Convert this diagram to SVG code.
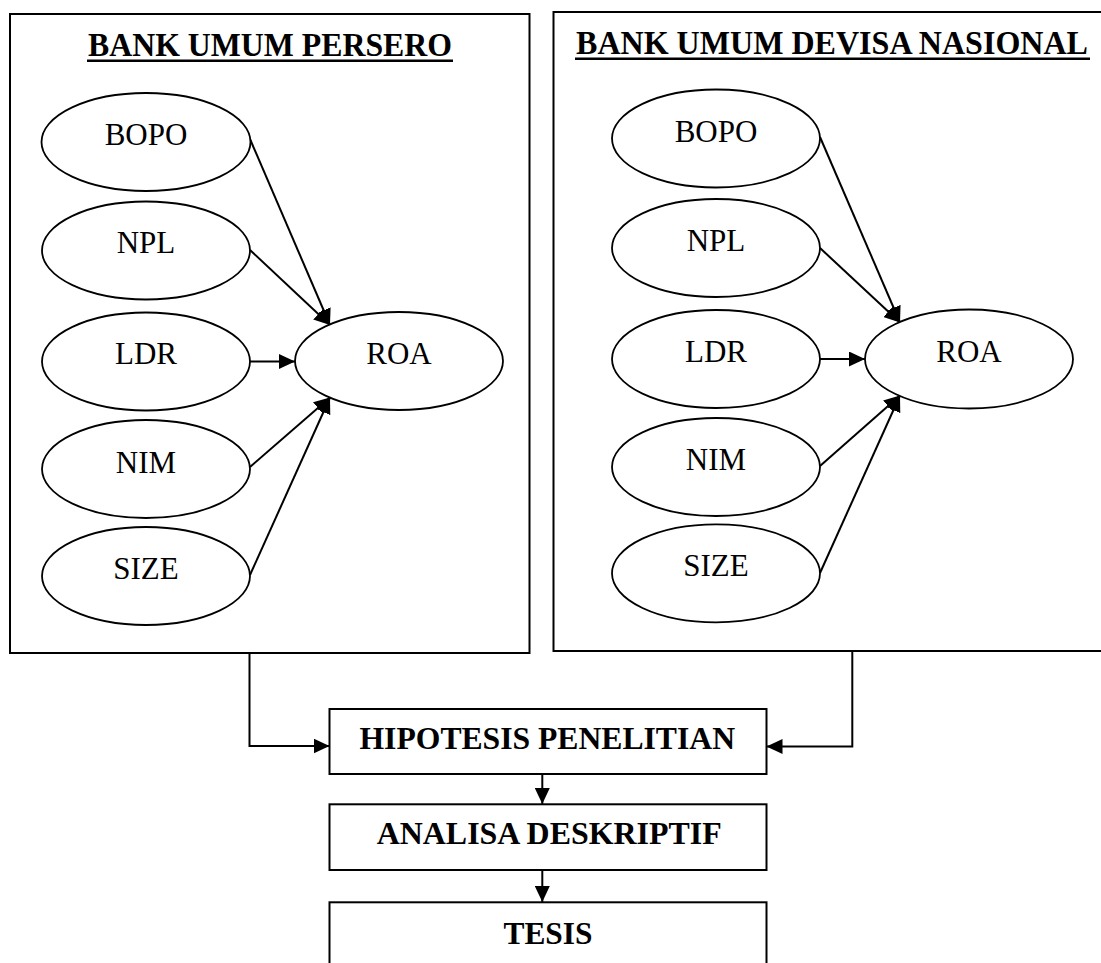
<svg xmlns="http://www.w3.org/2000/svg" width="1101" height="963" viewBox="0 0 1101 963">
<style>
  .box { fill: none; stroke: #000; stroke-width: 2; }
  .oval { fill: #fff; stroke: #000; stroke-width: 1.8; }
  .lbl { font-family: "Liberation Serif", "Times New Roman", serif; font-size: 31px; fill: #000; text-anchor: middle; }
  .ttl { font-family: "Liberation Serif", "Times New Roman", serif; font-size: 32px; font-weight: bold; fill: #000; }
  .big { font-size: 34px; }
  .ul { stroke: #000; stroke-width: 2.4; }
  .edge { fill: none; stroke: #000; stroke-width: 2; }
</style>
<defs>
  <marker id="arr" markerUnits="userSpaceOnUse" markerWidth="17" markerHeight="15" refX="16" refY="7.5" orient="auto">
    <path d="M0,0 L16,7.5 L0,15 z" fill="#000"/>
  </marker>
</defs>
<rect width="1101" height="963" fill="#fff"/>

<g id="group-persero">
  <rect class="box" x="10" y="14" width="519.5" height="639"/>
  <text class="ttl big" x="88" y="55.7" textLength="364" lengthAdjust="spacingAndGlyphs">BANK UMUM PERSERO</text>
  <line class="ul" x1="87" y1="60.7" x2="453" y2="60.7"/>
</g>
<g id="group-devisa">
  <rect class="box" x="553.5" y="12" width="560" height="639"/>
  <text class="ttl big" x="576" y="54" textLength="512" lengthAdjust="spacingAndGlyphs">BANK UMUM DEVISA NASIONAL</text>
  <line class="ul" x1="575" y1="58.7" x2="1090" y2="58.7"/>
</g>

<g id="connectors">
  <line class="edge" x1="250" y1="139" x2="330" y2="325" marker-end="url(#arr)"/>
  <line class="edge" x1="250" y1="250" x2="330" y2="325" marker-end="url(#arr)"/>
  <line class="edge" x1="250" y1="361.5" x2="295" y2="361.5" marker-end="url(#arr)"/>
  <line class="edge" x1="250" y1="467" x2="330" y2="397.5" marker-end="url(#arr)"/>
  <line class="edge" x1="250" y1="575" x2="330" y2="397.5" marker-end="url(#arr)"/>
  <line class="edge" x1="820" y1="137" x2="900" y2="322.5" marker-end="url(#arr)"/>
  <line class="edge" x1="820" y1="248" x2="900" y2="322.5" marker-end="url(#arr)"/>
  <line class="edge" x1="820" y1="359" x2="865" y2="359" marker-end="url(#arr)"/>
  <line class="edge" x1="820" y1="466" x2="900" y2="395.5" marker-end="url(#arr)"/>
  <line class="edge" x1="820" y1="573" x2="900" y2="395.5" marker-end="url(#arr)"/>
  <polyline class="edge" points="249.5,653 249.5,746 329.5,746" marker-end="url(#arr)"/>
  <polyline class="edge" points="852.3,651 852.3,746.5 766.5,746.5" marker-end="url(#arr)"/>
  <line class="edge" x1="542.3" y1="774" x2="542.3" y2="804" marker-end="url(#arr)"/>
  <line class="edge" x1="542.3" y1="870" x2="542.3" y2="902" marker-end="url(#arr)"/>
</g>

<g id="p-bopo"><ellipse class="oval" cx="146" cy="142" rx="104.5" ry="49"/><text class="lbl" x="146" y="144.5">BOPO</text></g>
<g id="p-npl"><ellipse class="oval" cx="146" cy="250.5" rx="104" ry="49"/><text class="lbl" x="146" y="253.3">NPL</text></g>
<g id="p-ldr"><ellipse class="oval" cx="146" cy="361.5" rx="104" ry="49"/><text class="lbl" x="146" y="364.3">LDR</text></g>
<g id="p-nim"><ellipse class="oval" cx="146" cy="469" rx="104" ry="49"/><text class="lbl" x="146" y="473">NIM</text></g>
<g id="p-size"><ellipse class="oval" cx="146" cy="576" rx="104" ry="49"/><text class="lbl" x="146" y="579">SIZE</text></g>
<g id="p-roa"><ellipse class="oval" cx="399" cy="361" rx="104" ry="49"/><text class="lbl" x="399" y="363.5">ROA</text></g>

<g id="d-bopo"><ellipse class="oval" cx="716" cy="138.5" rx="104" ry="49"/><text class="lbl" x="716" y="141.5">BOPO</text></g>
<g id="d-npl"><ellipse class="oval" cx="716" cy="248" rx="104" ry="49"/><text class="lbl" x="716" y="251">NPL</text></g>
<g id="d-ldr"><ellipse class="oval" cx="716" cy="359" rx="104" ry="49"/><text class="lbl" x="716" y="361.7">LDR</text></g>
<g id="d-nim"><ellipse class="oval" cx="716" cy="467" rx="104" ry="49"/><text class="lbl" x="716" y="470">NIM</text></g>
<g id="d-size"><ellipse class="oval" cx="716" cy="573.3" rx="104" ry="49"/><text class="lbl" x="716" y="576">SIZE</text></g>
<g id="d-roa"><ellipse class="oval" cx="969" cy="359" rx="104" ry="49.5"/><text class="lbl" x="969" y="361.7">ROA</text></g>

<g id="hipotesis">
  <rect class="box" x="329.5" y="709" width="437" height="65"/>
  <text class="ttl" x="359.5" y="749" textLength="375.5" lengthAdjust="spacingAndGlyphs">HIPOTESIS PENELITIAN</text>
</g>
<g id="analisa">
  <rect class="box" x="329.5" y="804.3" width="437" height="65.7"/>
  <text class="ttl" x="376.7" y="844" textLength="345" lengthAdjust="spacingAndGlyphs">ANALISA DESKRIPTIF</text>
</g>
<g id="tesis">
  <rect class="box" x="329.5" y="902.3" width="437" height="80"/>
  <text class="ttl" x="503.5" y="944" textLength="89" lengthAdjust="spacingAndGlyphs">TESIS</text>
</g>
</svg>
